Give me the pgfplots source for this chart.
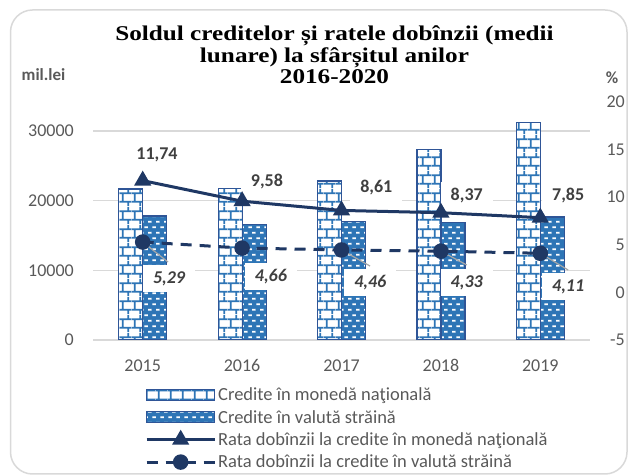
\documentclass[border=0pt]{standalone}
\usepackage{pgfplots}
\pgfplotsset{compat=1.18}
\usepackage{fontspec}
\setmainfont{Carlito}
\newfontfamily\titlefont[FakeStretch=1.2]{Liberation Serif}
\usetikzlibrary{patterns}

\definecolor{barblue}{RGB}{46,117,182}
\definecolor{barline}{RGB}{47,85,151}
\definecolor{navy}{RGB}{31,56,100}
\definecolor{txt}{RGB}{89,89,89}
\definecolor{lab}{RGB}{64,64,64}
\definecolor{gridc}{RGB}{217,217,217}
\definecolor{leader}{RGB}{166,166,166}

\pgfdeclarepatterninherentlycolored{natbricks}{\pgfpointorigin}{\pgfqpoint{12bp}{18bp}}{\pgfqpoint{12bp}{18bp}}{%
 \pgfsetfillcolor{white}\pgfpathrectangle{\pgfpointorigin}{\pgfqpoint{12bp}{18bp}}\pgfusepath{fill}%
 \pgfsetstrokecolor{barblue}\pgfsetlinewidth{1.8bp}%
 \pgfpathmoveto{\pgfqpoint{0bp}{4.5bp}}\pgfpathlineto{\pgfqpoint{12bp}{4.5bp}}%
 \pgfpathmoveto{\pgfqpoint{0bp}{13.5bp}}\pgfpathlineto{\pgfqpoint{12bp}{13.5bp}}%
 \pgfpathmoveto{\pgfqpoint{3bp}{4.5bp}}\pgfpathlineto{\pgfqpoint{3bp}{13.5bp}}%
 \pgfpathmoveto{\pgfqpoint{9bp}{13.5bp}}\pgfpathlineto{\pgfqpoint{9bp}{18bp}}%
 \pgfpathmoveto{\pgfqpoint{9bp}{0bp}}\pgfpathlineto{\pgfqpoint{9bp}{4.5bp}}%
 \pgfusepath{stroke}}

\pgfdeclarepatterninherentlycolored{forweave}{\pgfpointorigin}{\pgfqpoint{8bp}{11.4bp}}{\pgfqpoint{8bp}{11.4bp}}{%
 \pgfsetfillcolor{barblue}\pgfpathrectangle{\pgfpointorigin}{\pgfqpoint{8bp}{11.4bp}}\pgfusepath{fill}%
 \pgfsetfillcolor{white}%
 \pgfpathrectangle{\pgfqpoint{0.5bp}{2bp}}{\pgfqpoint{3.8bp}{1.8bp}}%
 \pgfpathrectangle{\pgfqpoint{4.5bp}{7.7bp}}{\pgfqpoint{3.5bp}{1.8bp}}%
 \pgfusepath{fill}}

\tikzset{
  lbl/.style={fill=white, text=lab, font=\fontsize{18bp}{20bp}\selectfont\bfseries, minimum width=52bp, minimum height=27bp, inner sep=0pt},
  flbl/.style={lbl, font=\fontsize{18bp}{20bp}\selectfont\bfseries\itshape},
}
\pgfplotsset{
  linelegend/.style={legend image code/.code={\draw[##1,mark repeat=2,mark phase=2] plot coordinates {(0bp,0bp) (34bp,0bp) (68bp,0bp)};}},
  base/.style={scale only axis, width=497bp, height=238bp, at={(93bp,136bp)}, anchor=south west,
    xmin=-0.5, xmax=4.5, axis line style={draw=none}, major tick length=0pt,
    scaled y ticks=false,
    /pgf/number format/1000 sep={}, /pgf/number format/assume math mode=true,
    ticklabel style={font=\fontsize{18bp}{20bp}\selectfont, text=txt}},
}

\pgfplotstableread{
x nat for
0 21670 17800
1 21770 16600
2 22820 16980
3 27370 16890
4 31250 17650
}\credits

\pgfplotstableread{
x nat for
0 11.74 5.29
1 9.58 4.66
2 8.61 4.46
3 8.37 4.33
4 7.85 4.11
}\rates

\begin{document}
\begin{tikzpicture}
\draw[gridc, line width=1.5bp, rounded corners=22bp] (10.5bp,2bp) rectangle (627bp,466bp);

\begin{axis}[base,
  ymin=0, ymax=34160, ytick={0,10000,20000,30000},
  xtick={0,...,4}, xticklabels={2015,2016,2017,2018,2019},
  xticklabel style={yshift=-16bp},
  yticklabel style={anchor=east, inner sep=0pt, xshift=-19bp},
  ymajorgrids, grid style={draw=gridc, line width=1.2bp},
]
\addplot[ybar, bar width=24bp, bar shift=-12bp, draw=barline, line width=1.2bp, pattern=natbricks] table[x=x,y=nat]{\credits};
\addplot[ybar, bar width=24bp, bar shift=12bp, draw=barline, line width=1.2bp, pattern=forweave] table[x=x,y=for]{\credits};
\end{axis}

\begin{axis}[base,
  ymin=-5, ymax=20, ytick={-5,0,...,20},
  axis y line*=right, axis x line=none,
  yticklabel style={anchor=east, inner sep=0pt, xshift=35bp},
  legend style={draw=none, fill=none, at={(axis description cs:0.1046,-0.192)}, anchor=north west,
    inner sep=0pt, row sep=4bp, font=\fontsize{18.5bp}{20bp}\selectfont, text=txt, nodes={inner sep=2bp}},
  legend cell align=left,
]
\addlegendimage{legend image code/.code={\draw[pattern=natbricks,draw=barline,line width=1bp] (0bp,-5bp) rectangle (68bp,6bp);}}
\addlegendentry{Credite în monedă naţională}
\addlegendimage{legend image code/.code={\draw[pattern=forweave,draw=barline,line width=1bp] (0bp,-5bp) rectangle (68bp,6bp);}}
\addlegendentry{Credite în valută străină}
\addplot[navy, line width=3bp, mark=triangle*, mark size=8.5bp, mark options={solid, line width=1.5bp}, linelegend] table[x=x,y=nat]{\rates};
\addlegendentry{Rata dobînzii la credite în monedă naţională}
\addplot[navy, line width=3bp, dash pattern=on 11bp off 8bp, mark=*, mark size=7bp, mark options={solid, line width=1.5bp}, linelegend] table[x=x,y=for]{\rates};
\addlegendentry{Rata dobînzii la credite în valută străină}

\draw[leader, line width=1.2bp] (axis cs:0,5.29) -- (axis cs:0.255,3.19);
\draw[leader, line width=1.2bp] (axis cs:2,4.46) -- (axis cs:2.287,2.77);
\draw[leader, line width=1.2bp] (axis cs:3,4.33) -- (axis cs:3.26,2.88);
\draw[leader, line width=1.2bp] (axis cs:4,4.11) -- (axis cs:4.28,2.35);

\node[lbl] at (axis cs:0.144,14.43) {11,74};
\node[lbl] at (axis cs:1.25,11.6) {9,58};
\node[lbl] at (axis cs:2.35,10.97) {8,61};
\node[lbl] at (axis cs:3.26,10.13) {8,37};
\node[lbl] at (axis cs:4.28,10.13) {7,85};

\node[flbl] at (axis cs:0.265,1.41) {5,29};
\node[flbl] at (axis cs:1.29,1.62) {4,66};
\node[flbl] at (axis cs:2.29,0.99) {4,46};
\node[flbl] at (axis cs:3.26,0.99) {4,33};
\node[flbl] at (axis cs:4.28,0.57) {4,11};
\end{axis}

\node[align=center, font=\titlefont\bfseries\fontsize{21bp}{21.5bp}\selectfont, inner sep=0pt] at (334.5bp,421bp)
  {Soldul creditelor și ratele dobînzii (medii\\lunare) la sfârșitul anilor\\2016-2020};
\node[font=\fontsize{17bp}{19bp}\selectfont\bfseries, text=txt, inner sep=0pt] at (43.5bp,401bp) {mil.lei};
\node[font=\fontsize{17bp}{19bp}\selectfont\bfseries, text=txt, inner sep=0pt] at (612bp,398bp) {\%};

\pgfresetboundingbox
\useasboundingbox (0bp,0bp) rectangle (630bp,476bp);
\end{tikzpicture}
\end{document}
